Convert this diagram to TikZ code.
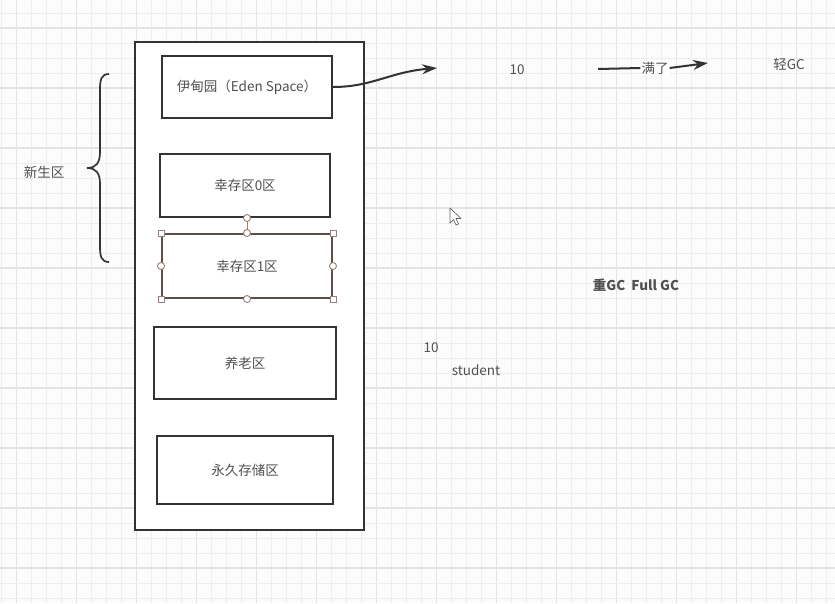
\documentclass[tikz,border=0pt]{standalone}
\usepackage{fontspec}
\setmainfont{Noto Sans CJK SC}
\usetikzlibrary{arrows.meta}
\definecolor{bg}{HTML}{FCFCFC}
\definecolor{gminor}{HTML}{EEEEEE}
\definecolor{gmajor}{HTML}{E3E3E3}
\definecolor{ink}{HTML}{333333}
\definecolor{txt}{HTML}{505050}
\definecolor{selc}{HTML}{5E4E49}
\definecolor{handc}{HTML}{9C7F74}
\tikzset{
  boxA/.style={draw=ink, line width=2pt, fill=white, minimum width=170pt, inner sep=0pt, font=\fontsize{13.5}{15}\selectfont, text=txt},
  lbl/.style={font=\fontsize{13.5}{15}\selectfont, text=txt, inner sep=1pt},
  conn/.style={draw=ink, line width=2pt, -{Stealth[length=15pt,width=10pt]}},
  hsq/.style={draw=handc, fill=white, line width=0.9pt, minimum size=6pt, inner sep=0pt, rectangle},
  hci/.style={draw=handc, fill=white, line width=0.9pt, minimum size=7pt, inner sep=0pt, circle},
}
\begin{document}
\begin{tikzpicture}[x=1pt,y=-1pt]
\useasboundingbox (0,0) rectangle (835,603);
\fill[bg] (0,0) rectangle (835,603);
% grid
\foreach \i in {0,...,55} {
  \pgfmathtruncatemacro{\m}{mod(\i,4)}
  \ifnum\m=1 \draw[gmajor,line width=1.2pt] ({1.7+15*\i},0) -- ({1.7+15*\i},603);
  \else \draw[gminor,line width=1pt] ({1.7+15*\i},0) -- ({1.7+15*\i},603); \fi
}
\foreach \j in {0,...,40} {
  \pgfmathtruncatemacro{\m}{mod(\j,4)}
  \ifnum\m=1 \draw[gmajor,line width=1.2pt] (0,{13+15*\j}) -- (835,{13+15*\j});
  \else \draw[gminor,line width=1pt] (0,{13+15*\j}) -- (835,{13+15*\j}); \fi
}
% outer container
\node[draw=ink, line width=2pt, fill=white, minimum width=229pt, minimum height=488pt, inner sep=0pt] (heap) at (249,286) {};
% boxes
\node[boxA, minimum width=170pt, minimum height=62pt] (eden) at (247,87) {伊甸园（Eden Space）};
\node[boxA, minimum width=170pt, minimum height=63pt] (s0) at (245,185.5) {幸存区0区};
\node[draw=selc, line width=2pt, fill=white, minimum width=170pt, minimum height=64pt, inner sep=0pt, font=\fontsize{13.5}{15}\selectfont, text=txt] (s1) at (247,266) {幸存区1区};
\node[boxA, minimum width=182pt, minimum height=72pt] (old) at (245,363) {养老区};
\node[boxA, minimum width=176pt, minimum height=68pt] (perm) at (245,470) {永久存储区};
% selection handles
\node[hci] (rot) at (247,218) {};
\draw[handc, line width=1pt] (rot) -- (s1.north);
\foreach \a in {north west, north east, south west, south east} \node[hsq] at (s1.\a) {};
\foreach \a in {north, south, west, east} \node[hci] at (s1.\a) {};
% brace
\draw[ink, line width=1.7pt] (109,74) .. controls (101,74) and (100,80) .. (100,90) -- (100,152)
  .. controls (100,163) and (96,168) .. (87,168) .. controls (96,168) and (100,173) .. (100,184)
  -- (100,246) .. controls (100,256) and (101,262) .. (109,262);
\node[lbl] (young) at (44,172) {新生区};
% arrows
\coordinate (a1) at (437,68);
\draw[conn] (eden.east) .. controls (372,87) and (390,72) .. (a1);
\node[lbl] (ten1) at (517,70) {10};
\coordinate (b0) at (598,69);
\coordinate (b1) at (708,63);
\node[lbl, fill=white, inner sep=1pt] (full) at (655,68) {满了};
\draw[ink, line width=2pt] (b0) -- (full.west);
\draw[conn] (full.east) -- (b1);
\node[lbl] (minor) at (789,64) {轻GC};
\node[lbl, font=\fontsize{13.5}{15}\selectfont\bfseries] (major) at (636,285) {重GC\ \ Full GC};
\node[lbl] (ten2) at (431,348) {10};
\node[lbl] (stu) at (476,370) {student};
% mouse cursor
\draw[fill=white, draw=gray!80!black, line width=0.7pt, line join=round] (450,208) -- (450,223) -- (453.5,219.5) -- (456,225) -- (458.5,224) -- (456,218.5) -- (461,218.5) -- cycle;
\end{tikzpicture}
\end{document}
